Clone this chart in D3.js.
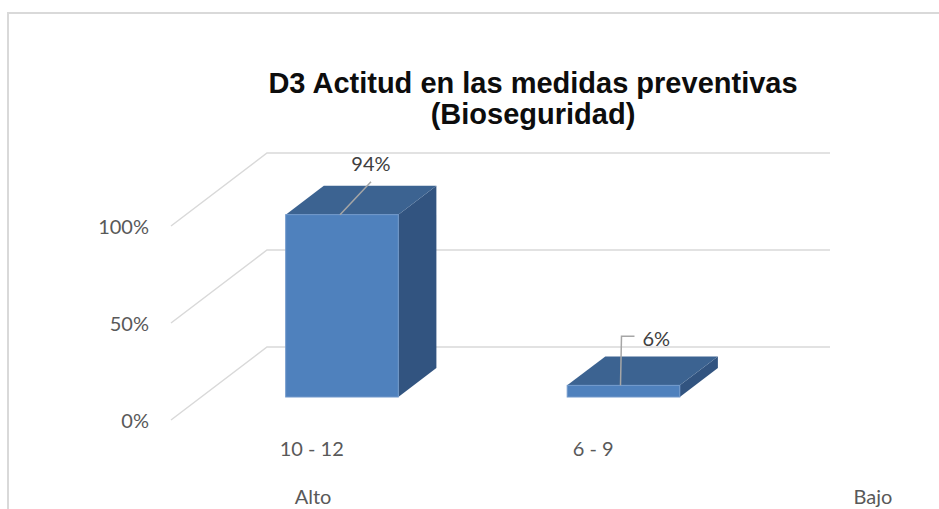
<!DOCTYPE html>
<html>
<head>
<meta charset="utf-8">
<script src="https://cdn.jsdelivr.net/npm/d3@7"></script>
<style>
  body { margin: 0; background: #fff; }
  svg { display: block; }
</style>
</head>
<body>
<svg id="chart" width="939" height="509"></svg>
<script>
// datos del grafico
const categorias = ["10 - 12", "6 - 9"];
const niveles = ["Alto", "Bajo"];
const valores = [0.94, 0.06];
const ticks = [0, 0.5, 1];
const titulo = ["D3 Actitud en las medidas preventivas", "(Bioseguridad)"];

const svg = d3.select("#chart");
const font = "Lato, 'Open Sans', sans-serif";

// marco exterior
svg.append("path")
    .attr("d", "M8,509 V13 H939")
    .attr("fill", "none")
    .attr("stroke", "#d9d9d9")
    .attr("stroke-width", 2);

// plano del fondo + profundidad 3D
const depthX = -96, depthY = 73; // desplazamiento del fondo hacia el frente
const x = d3.scaleBand().domain(categorias).range([267, 830]);
const y = d3.scaleLinear().domain([0, 1]).range([347, 153]);
const off = k => [depthX * k, depthY * k]; // k=0 fondo, k=1 frente

// lineas de la cuadricula (pared del fondo + pared lateral)
const grid = svg.append("g");
ticks.forEach(t => {
    const [dx, dy] = off(1);
    grid.append("path")
        .attr("d", `M${x.range()[0] + dx},${y(t) + dy} L${x.range()[0]},${y(t)} H${x.range()[1]}`)
        .attr("fill", "none")
        .attr("stroke", "#d9d9d9")
        .attr("stroke-width", 1.5);
});

// etiquetas del eje Y (en el plano frontal)
svg.append("g").selectAll("text")
    .data(ticks)
    .join("text")
    .attr("x", 149)
    .attr("y", d => y(d) + off(1)[1] + 8)
    .attr("text-anchor", "end")
    .attr("font-family", font)
    .attr("font-size", 20)
    .attr("fill", "#595959")
    .text(d => d3.format(".0%")(d));

// barras 3D
const kFront = 0.685, kBack = 0.288;
const barW = x.bandwidth() * 0.4;
const bars = svg.append("g").selectAll("g")
    .data(categorias.map((c, i) => ({ c, v: valores[i] })))
    .join("g");

bars.each(function (d) {
    const g = d3.select(this);
    const x0 = x(d.c) + (x.bandwidth() - barW) / 2, x1 = x0 + barW;
    const [fx, fy] = off(kFront), [bx, by] = off(kBack);
    const top = y(d.v), base = y(0);
    // cara lateral
    g.append("path")
        .attr("d", `M${x1 + fx},${top + fy} L${x1 + bx},${top + by} L${x1 + bx},${base + by} L${x1 + fx},${base + fy} Z`)
        .attr("fill", "#325480");
    // cara superior
    g.append("path")
        .attr("d", `M${x0 + fx},${top + fy} L${x0 + bx},${top + by} L${x1 + bx},${top + by} L${x1 + fx},${top + fy} Z`)
        .attr("fill", "#3c6391");
    // cara frontal
    g.append("rect")
        .attr("x", x0 + fx)
        .attr("y", top + fy)
        .attr("width", barW)
        .attr("height", base - top)
        .attr("fill", "#4f81bd")
        .attr("stroke", "#7199cb")
        .attr("stroke-width", 1);
});

// etiquetas de datos con lineas guia
const guia = "#a6a6a6";
{
    // 94%
    const d = { c: categorias[0], v: valores[0] };
    const cx = x(d.c) + x.bandwidth() / 2 + off(kFront)[0] - 2;
    const ty = y(d.v) + off(kFront)[1];
    svg.append("path")
        .attr("d", `M${cx},${ty} L${cx + 31},${ty - 33}`)
        .attr("stroke", guia).attr("stroke-width", 1.5).attr("fill", "none");
    svg.append("text")
        .attr("x", cx + 31).attr("y", ty - 44)
        .attr("text-anchor", "middle")
        .attr("font-family", font).attr("font-size", 20).attr("fill", "#404040")
        .text(d3.format(".0%")(d.v));
}
{
    // 6%
    const d = { c: categorias[1], v: valores[1] };
    const cx = x(d.c) + x.bandwidth() / 2 + off(kFront)[0] - 3;
    const ty = y(d.v) + off(kFront)[1];
    svg.append("path")
        .attr("d", `M${cx},${ty} L${cx + 1},${ty - 49} H${cx + 14}`)
        .attr("stroke", guia).attr("stroke-width", 1.5).attr("fill", "none");
    svg.append("text")
        .attr("x", cx + 22).attr("y", ty - 39)
        .attr("text-anchor", "start")
        .attr("font-family", font).attr("font-size", 20).attr("fill", "#404040")
        .text(d3.format(".0%")(d.v));
}

// etiquetas de categoria (plano frontal)
svg.append("g").selectAll("text")
    .data(categorias)
    .join("text")
    .attr("x", d => x(d) + x.bandwidth() / 2 + off(1)[0])
    .attr("y", 456)
    .attr("text-anchor", "middle")
    .attr("font-family", font)
    .attr("font-size", 20)
    .attr("fill", "#595959")
    .text(d => d);

// segundo nivel del eje
const xn = d3.scalePoint().domain(niveles).range([313, 873]);
svg.append("g").selectAll("text")
    .data(niveles)
    .join("text")
    .attr("x", d => xn(d))
    .attr("y", 504)
    .attr("text-anchor", "middle")
    .attr("font-family", font)
    .attr("font-size", 20)
    .attr("fill", "#595959")
    .text(d => d);

// titulo
svg.append("g").selectAll("text")
    .data(titulo)
    .join("text")
    .attr("x", 533)
    .attr("y", (d, i) => 93 + i * 31)
    .attr("text-anchor", "middle")
    .attr("font-family", "'Liberation Sans', Arial, sans-serif")
    .attr("font-weight", "bold")
    .attr("font-size", 29)
    .attr("fill", "#0d0d0d")
    .text(d => d);
</script>
</body>
</html>
